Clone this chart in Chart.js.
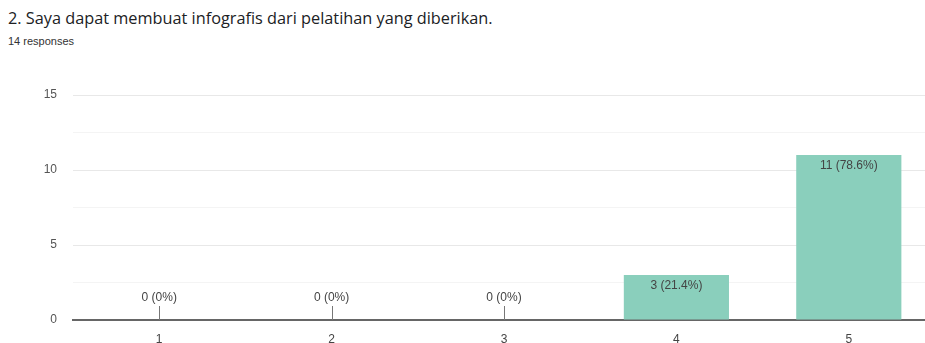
<!DOCTYPE html>
<html>
<head>
<meta charset="utf-8">
<script src="https://cdn.jsdelivr.net/npm/chart.js@4"></script>
<style>
  html, body { margin: 0; padding: 0; background: #fff; overflow: hidden; width: 925px; height: 343px; }
  #judul { position: absolute; left: 8px; top: 7px; font: 16.3px "Open Sans", sans-serif; color: #202124; white-space: nowrap; }
  #jumlah { position: absolute; left: 8px; top: 35px; font: 11px "Liberation Sans", Arial, sans-serif; color: #333; }
  #wadah { position: absolute; left: 0; top: 80px; width: 935px; height: 263px; }
</style>
</head>
<body>
<div id="judul">2. Saya dapat membuat infografis dari pelatihan yang diberikan.</div>
<div id="jumlah">14 responses</div>
<div id="wadah"><canvas id="grafik"></canvas></div>
<script>
// Data jawaban
const kategori = ['1', '2', '3', '4', '5'];
const jumlahJawaban = [0, 0, 0, 3, 11];
const persen = ['0%', '0%', '0%', '21.4%', '78.6%'];
const labelSumbuY = [0, 5, 10, 15];

const warnaBatang = '#8acfbc';
const warnaTeks = '#444';

// Label nilai di atas / di dalam batang
const labelNilai = {
  id: 'labelNilai',
  afterDatasetsDraw(chart) {
    const ctx = chart.ctx;
    const meta = chart.getDatasetMeta(0);
    const yNol = chart.scales.y.getPixelForValue(0);
    ctx.save();
    ctx.font = '12px "Liberation Sans", Arial, sans-serif';
    ctx.fillStyle = warnaTeks;
    ctx.textAlign = 'center';
    ctx.textBaseline = 'middle';
    meta.data.forEach((bar, i) => {
      const teks = jumlahJawaban[i] + ' (' + persen[i] + ')';
      if (jumlahJawaban[i] === 0) {
        ctx.strokeStyle = '#777';
        ctx.lineWidth = 1;
        ctx.beginPath();
        ctx.moveTo(Math.round(bar.x) + 0.5, yNol);
        ctx.lineTo(Math.round(bar.x) + 0.5, yNol - 14);
        ctx.stroke();
        ctx.fillText(teks, bar.x, yNol - 22);
      } else {
        ctx.fillText(teks, bar.x, bar.y + 11);
      }
    });
    ctx.restore();
  }
};

new Chart(document.getElementById('grafik'), {
  type: 'bar',
  data: {
    labels: kategori,
    datasets: [{
      data: jumlahJawaban,
      backgroundColor: warnaBatang,
      categoryPercentage: 1,
      barPercentage: 0.61
    }]
  },
  options: {
    responsive: true,
    maintainAspectRatio: false,
    animation: false,
    layout: { padding: { top: 15, right: 0, left: 0, bottom: 0 } },
    plugins: { legend: { display: false }, tooltip: { enabled: false } },
    scales: {
      x: {
        grid: { display: false, drawTicks: false },
        border: { display: true, color: '#666', width: 2 },
        ticks: { color: warnaTeks, padding: 12, font: { size: 12, family: '"Liberation Sans", Arial, sans-serif' } },
        afterFit(s) { s.height = 23; }
      },
      y: {
        min: 0,
        max: 15,
        ticks: {
          stepSize: 2.5,
          padding: 16,
          color: '#555',
          font: { size: 12, family: '"Liberation Sans", Arial, sans-serif' },
          callback: (v) => labelSumbuY.includes(v) ? v : ''
        },
        grid: {
          drawTicks: false,
          color: (c) => c.tick && c.tick.value === 0 ? 'rgba(0,0,0,0)' : (c.tick && c.tick.value % 5 === 0 ? '#e8e8e8' : '#f4f4f4'),
          lineWidth: 1
        },
        border: { display: false },
        afterFit(s) { s.width = 73; s.paddingTop = 0; s.paddingBottom = 0; }
      }
    }
  },
  plugins: [labelNilai]
});
</script>
</body>
</html>
